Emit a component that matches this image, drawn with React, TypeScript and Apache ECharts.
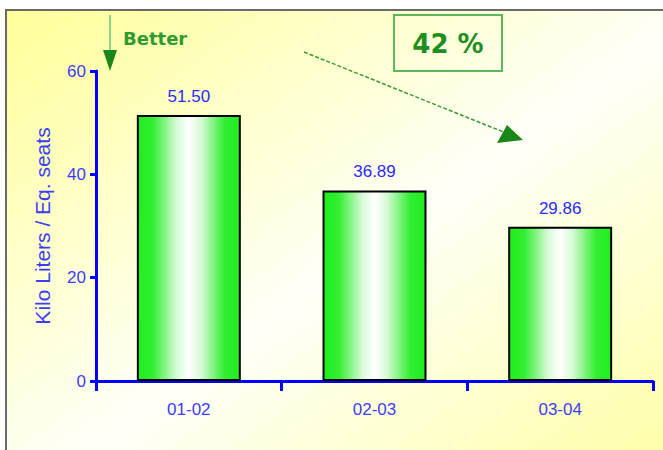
import React, { useEffect, useRef } from "react";
import * as echarts from "echarts";

// Fuel consumption per equivalent seat, by financial year
const years = ["01-02", "02-03", "03-04"];
const kiloLitersPerSeat = [51.5, 36.89, 29.86];
const reductionLabel = "42 %";

const BLUE = "#0000ff";
const LABEL_BLUE = "#3c3cff";
const GREEN = "#1f8f1f";

export default function App() {
  const ref = useRef<HTMLDivElement>(null);

  useEffect(() => {
    document.body.style.margin = "0";
    const chart = echarts.init(ref.current!, null, { renderer: "svg" });

    const barFill = new echarts.graphic.LinearGradient(0, 0, 1, 0, [
      { offset: 0, color: "#1fee1f" },
      { offset: 0.15, color: "#33ee33" },
      { offset: 0.38, color: "#d8fad8" },
      { offset: 0.5, color: "#ffffff" },
      { offset: 0.62, color: "#d8fad8" },
      { offset: 0.85, color: "#33ee33" },
      { offset: 1, color: "#1fee1f" },
    ]);

    chart.setOption({
      animation: false,
      grid: { left: 96, right: 10, top: 71, bottom: 69, containLabel: false },
      xAxis: {
        type: "category",
        data: years,
        boundaryGap: true,
        axisLine: { lineStyle: { color: BLUE, width: 3 } },
        axisTick: { show: true, length: 10, lineStyle: { color: BLUE, width: 3 } },
        axisLabel: {
          color: LABEL_BLUE,
          fontFamily: "Liberation Sans",
          fontSize: 17,
          margin: 20,
        },
      },
      yAxis: {
        type: "value",
        min: 0,
        max: 60,
        interval: 20,
        name: "Kilo Liters / Eq. seats",
        nameLocation: "middle",
        nameGap: 43,
        nameTextStyle: {
          color: LABEL_BLUE,
          fontFamily: "Liberation Sans",
          fontSize: 21,
        },
        splitLine: { show: false },
        axisLine: { show: true, lineStyle: { color: BLUE, width: 3 } },
        axisTick: { show: true, length: 6, lineStyle: { color: BLUE, width: 3 } },
        axisLabel: {
          color: LABEL_BLUE,
          fontFamily: "Liberation Sans",
          fontSize: 17,
          margin: 10,
        },
      },
      series: [
        {
          type: "bar",
          data: kiloLitersPerSeat,
          barWidth: "56%",
          itemStyle: { color: barFill, borderColor: "#000", borderWidth: 2 },
          label: {
            show: true,
            position: "top",
            distance: 10,
            color: "#2a2aff",
            fontFamily: "Liberation Sans",
            fontSize: 17,
            formatter: (p: any) => p.value.toFixed(2),
          },
        },
      ],
      graphic: [
        {
          type: "rect",
          z: -100,
          silent: true,
          shape: { x: 6, y: 10, width: 700, height: 500 },
          style: {
            fill: new echarts.graphic.LinearGradient(0, 0, 1, 1, [
              { offset: 0, color: "#ffff99" },
              { offset: 0.5, color: "#fffff8" },
              { offset: 1, color: "#ffff99" },
            ]),
            stroke: "#6a6a6a",
            lineWidth: 2,
          },
        },
        // "Better" downward arrow
        {
          type: "line",
          shape: { x1: 110, y1: 15, x2: 110, y2: 52 },
          style: { stroke: "#8fd68f", lineWidth: 2 },
        },
        {
          type: "polygon",
          shape: { points: [[103, 50], [117, 50], [110, 71]] },
          style: { fill: "#1a861a" },
        },
        {
          type: "text",
          x: 123,
          y: 38,
          style: {
            text: "Better",
            fill: "#2f9a2f",
            font: "bold 18px 'DejaVu Sans'",
            textVerticalAlign: "middle",
          },
        },
        // reduction box
        {
          type: "rect",
          shape: { x: 394, y: 15, width: 108, height: 56 },
          style: { fill: "none", stroke: "#5cb85c", lineWidth: 2 },
        },
        {
          type: "text",
          x: 448,
          y: 44,
          style: {
            text: reductionLabel,
            fill: GREEN,
            font: "bold 26px 'DejaVu Sans'",
            textAlign: "center",
            textVerticalAlign: "middle",
          },
        },
        // trend arrow
        {
          type: "line",
          shape: { x1: 304, y1: 52, x2: 506, y2: 133 },
          style: { stroke: "#3a9a3a", lineWidth: 1.5, lineDash: [4, 2] },
        },
        {
          type: "polygon",
          shape: { points: [[497, 143], [507, 125], [523, 140]] },
          style: { fill: "#1a861a" },
        },
      ],
    });

    return () => chart.dispose();
  }, []);

  return (
    <div
      ref={ref}
      style={{ position: "absolute", left: 0, top: 0, width: 663, height: 450, background: "#fff" }}
    />
  );
}
